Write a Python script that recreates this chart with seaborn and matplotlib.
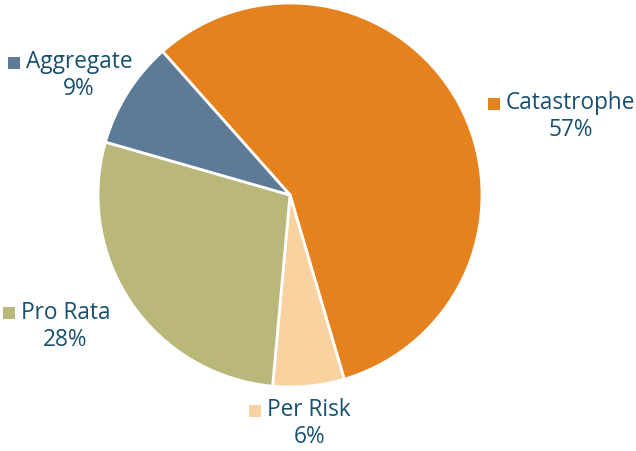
import matplotlib
matplotlib.use("Agg")
import matplotlib.pyplot as plt
import seaborn as sns

# data
categories = ["Catastrophe", "Per Risk", "Pro Rata", "Aggregate"]
shares = [57, 6, 28, 9]
colors = ["#e6821e", "#f9d29f", "#b9b77a", "#5d7a96"]

# label centres (in pie-radius units)
label_pos = {
    "Catastrophe": (1.46, 0.41),
    "Per Risk": (0.10, -1.19),
    "Pro Rata": (-1.17, -0.68),
    "Aggregate": (-1.10, 0.625),
}

sns.set_theme(style="white")
plt.rcParams["font.family"] = ["Open Sans", "DejaVu Sans"]
text_color = "#17506e"

fig = plt.figure(figsize=(6.36, 4.51), dpi=100)
ax = fig.add_axes([0, 0, 1, 1])
ax.pie(shares, colors=colors, startangle=131.6, counterclock=False,
       radius=1.0, wedgeprops=dict(edgecolor="white", linewidth=2))
ax.set_aspect("auto")
ax.set_xlim(-290 / 192, (636 - 290) / 192)
ax.set_ylim((195 - 451) / 192, 195 / 192)
ax.axis("off")

fig.canvas.draw()
renderer = fig.canvas.get_renderer()
for cat, val, col in zip(categories, shares, colors):
    x, y = label_pos[cat]
    t = ax.text(x, y + 0.068, cat, ha="center", va="center",
                fontsize=16.3, color=text_color)
    ax.text(x, y - 0.073, f"{val}%", ha="center", va="center",
            fontsize=16.3, color=text_color)
    bb = t.get_window_extent(renderer).transformed(ax.transData.inverted())
    ax.scatter([bb.x0 - 0.062], [y + 0.065], marker="s", s=78, color=col,
               linewidths=0)

fig.savefig("out.png", dpi=100)
